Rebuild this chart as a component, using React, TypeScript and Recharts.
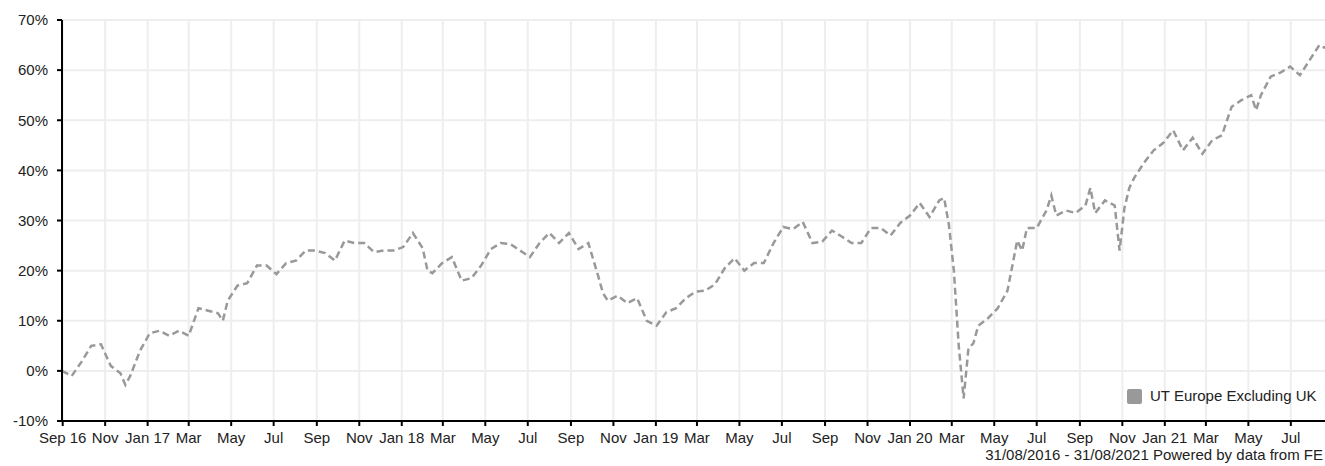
import React from "react";
import { LineChart, Line, XAxis, YAxis, CartesianGrid } from "recharts";

// week number since 31/08/2016, value in %
const weeks = [
  0, 2, 4, 6, 8, 10, 12, 13, 14, 16, 18, 20, 22, 24, 26, 28, 30, 32, 33, 34,
  36, 38, 40, 42, 44, 46, 48, 50, 52, 54, 56, 58, 60, 62, 64, 66, 68, 70, 72, 74,
  75, 76, 78, 80, 82, 84, 86, 88, 90, 92, 94, 96, 98, 100, 102, 104, 106, 108, 110, 111,
  112, 114, 116, 118, 120, 122, 124, 126, 128, 130, 132, 134, 136, 138, 140, 142, 144, 146, 148, 150,
  152, 154, 156, 158, 160, 162, 164, 166, 168, 170, 172, 174, 176, 178, 180, 181, 182, 183, 184, 185,
  186, 187, 188, 190, 192, 194, 196, 197, 198, 200, 202, 203, 204, 206, 208, 210, 211, 212, 214, 216,
  217, 218, 219, 220, 222, 224, 226, 228, 230, 232, 234, 236, 238, 240, 242, 244, 245, 246, 248, 250,
  252, 254, 256, 258, 259, 260, 261,
];

const europeExUk = [
  0, -1, 1.8, 5, 5.3, 1, -0.5, -2.8, -1, 4, 7.5, 8, 7, 8, 7, 12.5, 12, 11.5, 10, 14,
  17, 17.5, 21, 21, 19.3, 21.5, 22, 24, 24, 23.5, 22, 26, 25.5, 25.5, 23.7, 24, 24, 24.7, 27.5, 24.5,
  20, 19.5, 21.5, 22.7, 18, 18.5, 21, 24.3, 25.5, 25.3, 24, 22.7, 25.5, 27.5, 25.5, 27.5, 24.3, 25.5, 19, 15.5,
  14, 15, 13.5, 14.5, 10, 9, 11.7, 12.5, 14.5, 15.8, 16, 17.3, 20.5, 22.5, 20, 21.5, 21.5, 25.5, 28.7, 28.3,
  29.7, 25.5, 25.8, 28, 26.8, 25.5, 25.5, 28.5, 28.5, 27, 29.5, 31, 33.5, 30.7, 34, 34.5, 29, 20, 5, -5.5,
  4.5, 5.5, 9, 10.5, 12.5, 16, 26, 24, 28.5, 28.5, 32, 35, 31, 32, 31.5, 33, 36.5, 31.5, 34, 33,
  24, 32.5, 36.5, 38.5, 41.5, 44, 45.5, 48, 44, 46.5, 43.3, 46, 47, 52.7, 54, 55, 52, 55, 58.7, 59.5,
  60.7, 59, 62, 65, 64.5, 65, 65.5,
];

const xTickLabels = [
  "Sep 16", "Nov", "Jan 17", "Mar", "May", "Jul", "Sep", "Nov", "Jan 18", "Mar",
  "May", "Jul", "Sep", "Nov", "Jan 19", "Mar", "May", "Jul", "Sep", "Nov",
  "Jan 20", "Mar", "May", "Jul", "Sep", "Nov", "Jan 21", "Mar", "May", "Jul",
];

const yTicks = [-10, 0, 10, 20, 30, 40, 50, 60, 70];

const DAY = 86400000;
const start = Date.UTC(2016, 7, 31);
const tickDays = xTickLabels.map((_, k) => (Date.UTC(2016, 8 + 2 * k, 1) - start) / DAY);

const data = weeks.map((w, i) => ({ day: w * 7, value: europeExUk[i] }));

const font = "'Liberation Sans', Arial, sans-serif";
const grey = "#999999";

export default function App() {
  return (
    <div
      style={{
        position: "absolute",
        left: 0,
        top: 0,
        width: 1325,
        height: 466,
        overflow: "hidden",
        fontFamily: font,
        background: "#fff",
      }}
    >
      <div style={{ position: "absolute", left: 8, top: 8 }}>
        <LineChart
          width={1326}
          height={458}
          data={data}
          margin={{ top: 12, right: 0, bottom: 0, left: 0 }}
        >
          <CartesianGrid stroke="#eeeeee" strokeWidth={2} />
          <XAxis
            dataKey="day"
            type="number"
            domain={[0, 1826]}
            ticks={tickDays}
            interval={0}
            tickFormatter={(_, i) => xTickLabels[i]}
            height={45}
            tickSize={5}
            tickMargin={6}
            axisLine={{ stroke: "#000", strokeWidth: 2 }}
            tickLine={{ stroke: "#000", strokeWidth: 2 }}
            tick={{ fontSize: 15, fill: "#222", fontFamily: font }}
          />
          <YAxis
            type="number"
            domain={[-10, 70]}
            ticks={yTicks}
            interval={0}
            tickFormatter={(v) => `${v}%`}
            width={54}
            tickSize={5}
            tickMargin={9}
            axisLine={{ stroke: "#000", strokeWidth: 2 }}
            tickLine={{ stroke: "#000", strokeWidth: 2 }}
            tick={{ fontSize: 15, fill: "#222", fontFamily: font }}
          />
          <Line
            type="linear"
            dataKey="value"
            stroke={grey}
            strokeWidth={2.5}
            strokeDasharray="7 4"
            dot={false}
            isAnimationActive={false}
          />
        </LineChart>
      </div>
      <div
        style={{
          position: "absolute",
          left: 1127,
          top: 389,
          width: 15,
          height: 15,
          background: grey,
          borderRadius: 2,
        }}
      />
      <div
        style={{
          position: "absolute",
          left: 1150,
          top: 387,
          fontSize: 15,
          lineHeight: "18px",
          color: "#222",
          whiteSpace: "nowrap",
        }}
      >
        UT Europe Excluding UK
      </div>
      <div
        style={{
          position: "absolute",
          right: 2,
          top: 446,
          fontSize: 15,
          lineHeight: "18px",
          color: "#222",
          whiteSpace: "nowrap",
        }}
      >
        31/08/2016 - 31/08/2021 Powered by data from FE
      </div>
    </div>
  );
}
